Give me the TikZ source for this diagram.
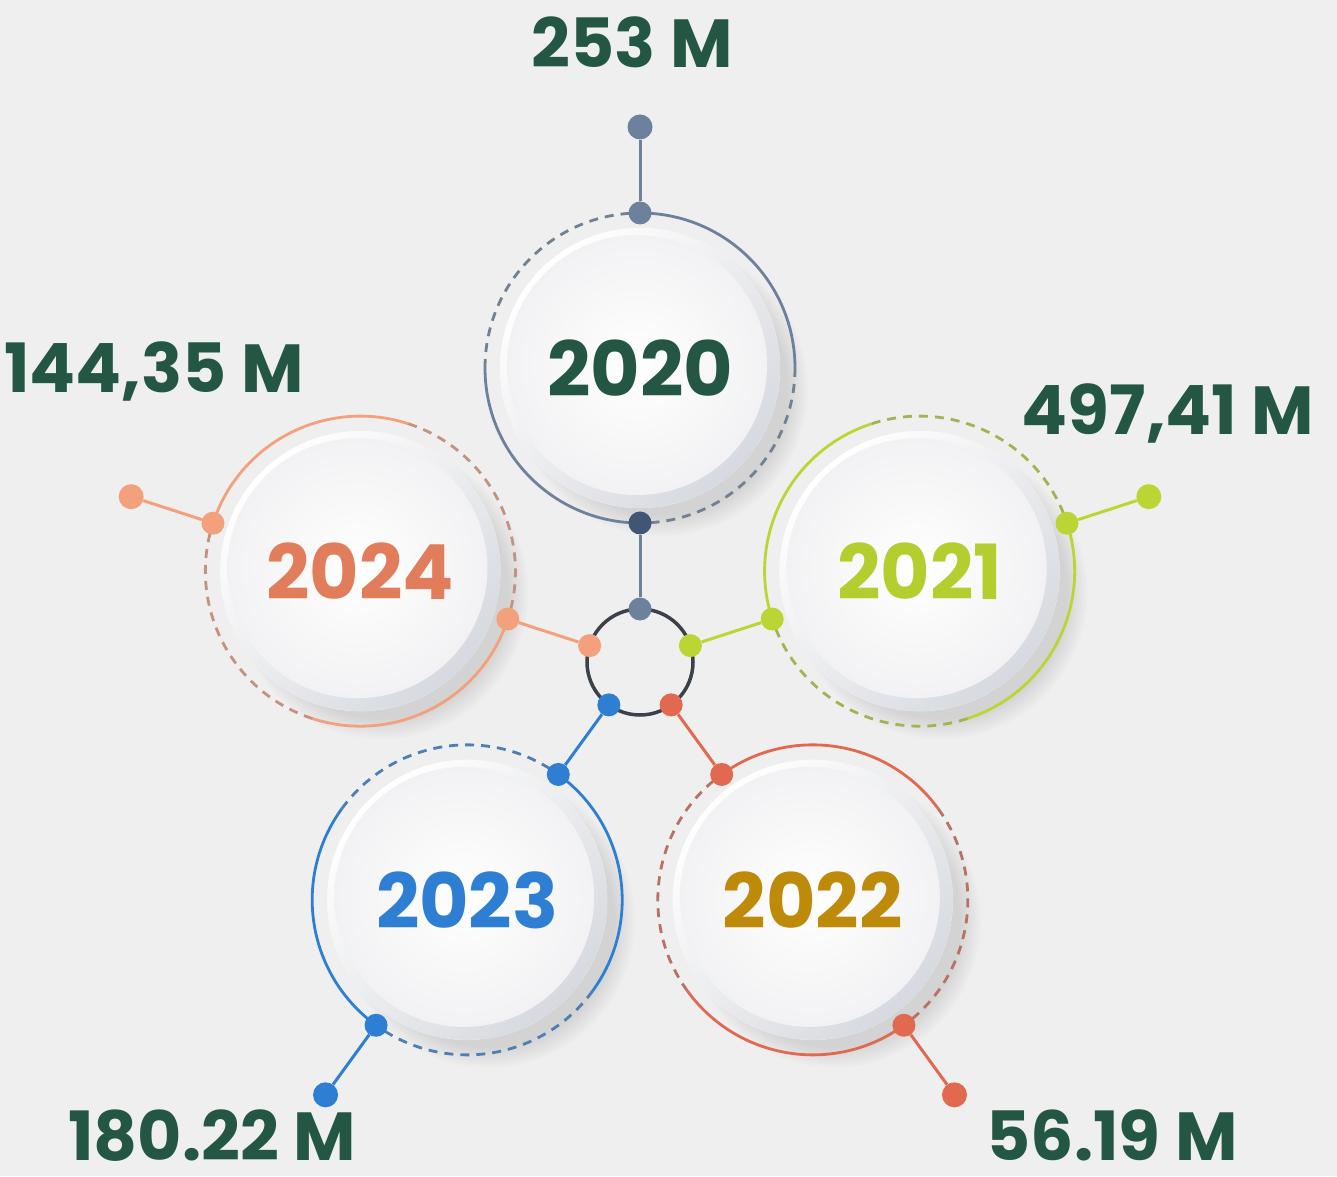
\documentclass[tikz,border=0pt]{standalone}
\usepackage{fontspec}
\setmainfont{Poppins}
\usetikzlibrary{shadows}

\definecolor{bggray}{HTML}{EFEFEF}
\definecolor{dkgreen}{HTML}{235643}
\definecolor{hubgray}{HTML}{3C4149}
\definecolor{rimgray}{HTML}{D6D9DF}
\definecolor{facegray}{HTML}{F2F2F4}
\definecolor{slate}{HTML}{6B819C}
\definecolor{slatedk}{HTML}{3F5674}
\definecolor{lime}{HTML}{BBD634}
\definecolor{limetxt}{HTML}{B4CE2F}
\definecolor{coral}{HTML}{E0694F}
\definecolor{gold}{HTML}{BE8A0A}
\definecolor{azure}{HTML}{2E7FD3}
\definecolor{salmon}{HTML}{F3A07C}
\definecolor{salmontxt}{HTML}{E27D5B}

\begin{document}
\begin{tikzpicture}[x=1pt, y=1pt,
    dot/.style={circle, fill=#1, minimum size=23pt, inner sep=0pt},
    solidarc/.style={draw=#1, line width=2.8pt},
    dasharc/.style={draw=#1!60!gray, line width=2.8pt, dash pattern=on 9pt off 7pt},
    link/.style={draw=#1, line width=3pt},
    year/.style={font=\fontsize{76}{76}\selectfont\bfseries},
    amount/.style={font=\fontsize{68}{68}\selectfont\bfseries, text=dkgreen, anchor=base, inner sep=0pt}]
  \useasboundingbox (0,0) rectangle (1337,1176);
  \fill[bggray] (0,0) rectangle (1337,1176);

  % small ring in the middle
  \node[circle, draw=hubgray, line width=3.5pt, minimum size=106pt, inner sep=0pt] (hub) at (640,514) {};

  % white buttons
  \foreach \n/\a in {0/90,1/18,2/-54,3/-126,4/162} {
    \node[circle, minimum size=310pt, inner sep=0pt] (c\n) at ([shift={(\a:294)}]hub) {};
    \fill[white, circular drop shadow={shadow xshift=20pt, shadow yshift=-20pt, shadow scale=1.05, opacity=0.25}]
      (c\n) circle[radius=140];
    \shade[top color=white, bottom color=rimgray, shading angle=45] (c\n) circle[radius=140];
    \shade[inner color=white, outer color=facegray] ([shift={(-3,3)}]c\n) circle[radius=130];
  }

  % rings, dots and links
  \foreach \n/\a/\col/\incol/\txt/\yr/\val/\lx/\ly in {
      0/90/slate/slatedk/dkgreen/2020/253 M/632/1108,
      1/18/lime/lime/limetxt/2021/{497,41 M}/1168/741,
      2/-54/coral/coral/gold/2022/56.19 M/1112/16,
      3/-126/azure/azure/azure/2023/180.22 M/212/16,
      4/162/salmon/salmon/salmontxt/2024/{144,35 M}/154/783} {
    \draw[solidarc=\col] ([shift={(\a:155)}]c\n) arc[start angle=\a, delta angle=-90, radius=155];
    \draw[dasharc=\col] ([shift={(\a-90:155)}]c\n) arc[start angle=\a-90, delta angle=-90, radius=155];
    \draw[solidarc=\col] ([shift={(\a-180:155)}]c\n) arc[start angle=\a-180, delta angle=-90, radius=155];
    \draw[dasharc=\col] ([shift={(\a-270:155)}]c\n) arc[start angle=\a-270, delta angle=-90, radius=155];
    \node[dot=\col] (h\n) at ([shift={(\a:53)}]hub) {};
    \node[dot=\incol] (in\n) at ([shift={(\a+180:155)}]c\n) {};
    \node[dot=\col] (out\n) at ([shift={(\a:155)}]c\n) {};
    \node[dot=\col, minimum size=25pt] (end\n) at ([shift={(\a:241)}]c\n) {};
    \path[link=\col] (h\n) -- (in\n);
    \path[link=\col] (out\n) -- (end\n);
    \node[year, text=\txt] (y\n) at (c\n) {\yr};
    \node[amount] (v\n) at (\lx,\ly) {\val};
  }
\end{tikzpicture}
\end{document}
